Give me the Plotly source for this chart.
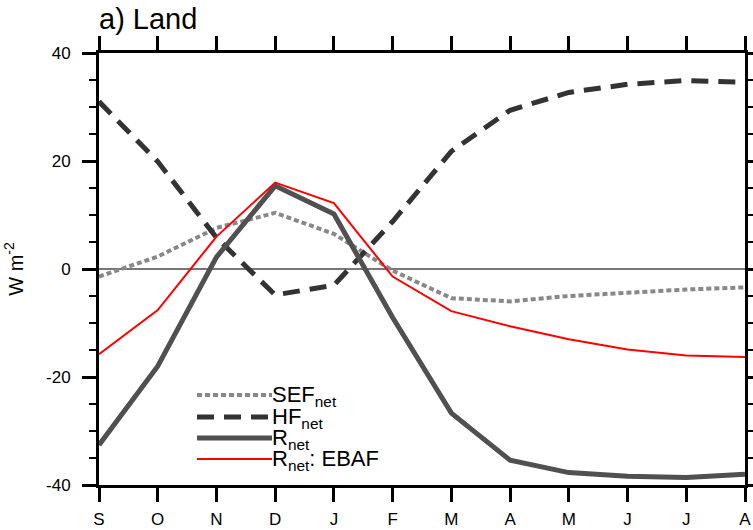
import plotly.graph_objects as go

months = ["S", "O", "N", "D", "J", "F", "M", "A", "M", "J", "J", "A"]
sef_net = [-1.4, 2.3, 7.6, 10.4, 6.5, -0.3, -5.4, -6.0, -5.0, -4.4, -3.8, -3.4]
hf_net = [31.0, 19.9, 5.8, -4.8, -3.0, 8.8, 21.8, 29.4, 32.7, 34.2, 34.9, 34.6]
r_net = [-32.6, -18.0, 2.2, 15.4, 10.2, -9.0, -26.7, -35.4, -37.7, -38.4, -38.6, -38.0]
r_net_ebaf = [-15.8, -7.6, 6.0, 16.0, 12.2, -1.4, -7.8, -10.6, -13.0, -14.9, -16.0, -16.3]

x = list(range(len(months)))
FONT = "Liberation Sans, Arial, Helvetica, sans-serif"

styles = [
    ("SEF<sub>net</sub>", sef_net, dict(color="#888888", width=4, dash="5px,3px")),
    ("HF<sub>net</sub>", hf_net, dict(color="#333333", width=5, dash="17px,10px")),
    ("R<sub>net</sub>", r_net, dict(color="#505050", width=5)),
    ("R<sub>net</sub>: EBAF", r_net_ebaf, dict(color="#ff0000", width=2)),
]

fig = go.Figure()
for name, vals, ln in styles:
    fig.add_trace(go.Scatter(x=x, y=vals, mode="lines", name=name, line=ln,
                             showlegend=False))

# manual legend (long line samples as in the original)
L, R_, T, B = 99, 745, 53, 485
W, H = R_ - L, B - T
def px(xp):
    return (xp - L) / W
def py(yp):
    return (B - yp) / H

rows_y = [395, 417, 438, 459]
shapes = []
annos = []
for (name, vals, ln), yy in zip(styles, rows_y):
    shapes.append(dict(type="line", xref="paper", yref="paper",
                       x0=px(197), x1=px(272), y0=py(yy), y1=py(yy),
                       line=dict(color=ln["color"], width=ln["width"],
                                 dash=ln.get("dash", "solid"))))
    annos.append(dict(text=name, xref="paper", yref="paper", x=px(271), y=py(yy + 1),
                      xanchor="left", yanchor="middle", showarrow=False, borderpad=0,
                      font=dict(family=FONT, size=22, color="black")))

fig.update_layout(
    width=753, height=530,
    margin=dict(l=99, r=8, t=53, b=45),
    plot_bgcolor="white", paper_bgcolor="white",
    font=dict(family=FONT, size=17, color="black"),
    title=dict(text="a) Land", x=px(99), xref="paper", xanchor="left",
               y=1 - 19 / 530, yref="container", yanchor="middle",
               font=dict(family=FONT, size=29, color="black")),
    shapes=shapes,
    annotations=annos,
)

fig.update_xaxes(range=[0, 11], tickmode="array", tickvals=x, ticktext=months,
                 showgrid=False, zeroline=False, showline=True, linecolor="black",
                 linewidth=3, mirror="ticks", ticks="outside", ticklen=14,
                 tickwidth=3, tickcolor="black", tickfont=dict(size=17),
                 ticklabelstandoff=3, automargin=False)
fig.update_yaxes(range=[-40, 40], tickmode="array", tickvals=[-40, -20, 0, 20, 40],
                 ticktext=["-40", "-20", "0", "20", "40"],
                 showgrid=False, zeroline=True, zerolinecolor="#777777", zerolinewidth=1.5,
                 showline=True, linecolor="black", linewidth=3, mirror="ticks",
                 ticks="outside", ticklen=14, tickwidth=3, tickcolor="black",
                 tickfont=dict(size=17), ticklabelstandoff=8, automargin=False,
                 minor=dict(tickvals=[-35, -30, -25, -15, -10, -5, 5, 10, 15, 25, 30, 35],
                            ticks="outside", ticklen=7, tickwidth=1.5, tickcolor="black"),
                 title=dict(text="W m<sup>-2</sup>", font=dict(size=20), standoff=18))

fig.write_html("out.html")
